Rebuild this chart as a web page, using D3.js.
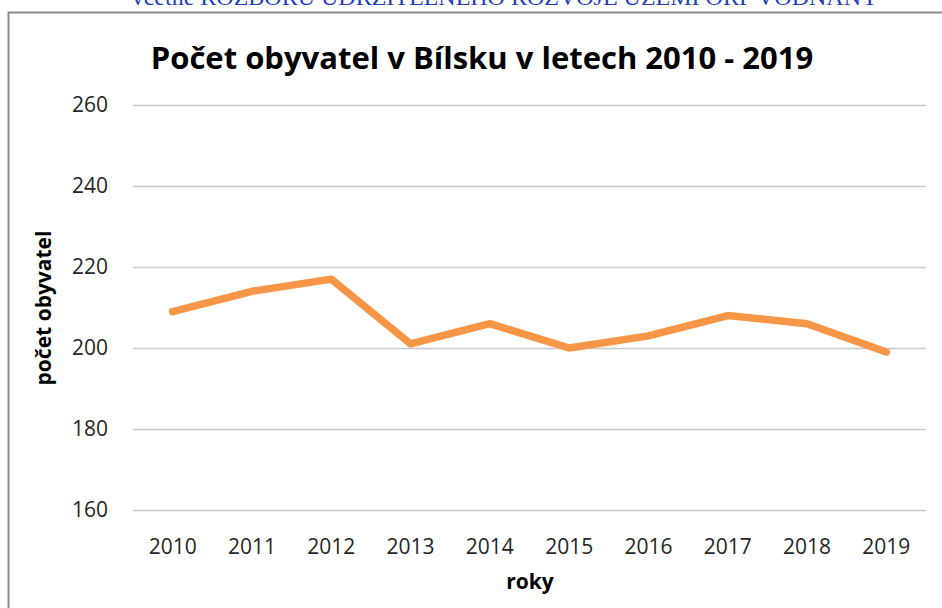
<!DOCTYPE html>
<html>
<head>
<meta charset="utf-8">
<script src="https://cdn.jsdelivr.net/npm/d3@7"></script>
<style>
  body { margin: 0; background: #fff; }
  svg { display: block; }
</style>
</head>
<body>
<div id="chart"></div>
<script>
// Počet obyvatel v Bílsku
const roky = ["2010", "2011", "2012", "2013", "2014", "2015", "2016", "2017", "2018", "2019"];
const obyvatele = [209, 214, 217, 201, 206, 200, 203, 208, 206, 199];
const yTicks = [160, 180, 200, 220, 240, 260];

const width = 942, height = 608;
const fontFam = "'Open Sans', 'Liberation Sans', sans-serif";

const svg = d3.select("#chart").append("svg")
    .attr("width", width)
    .attr("height", height);

// text dokumentu nad grafem (oříznutý)
svg.append("text")
    .attr("x", 505)
    .attr("y", 5)
    .attr("text-anchor", "middle")
    .style("font-family", "'Liberation Serif', 'Times New Roman', serif")
    .style("font-size", "24px")
    .style("fill", "#1f3fbf")
    .text("včetně ROZBORU UDRŽITELNÉHO ROZVOJE ÚZEMÍ ORP VODŇANY");

// rámeček grafu
svg.append("rect")
    .attr("x", 8.5)
    .attr("y", 12.5)
    .attr("width", 960)
    .attr("height", 620)
    .attr("fill", "none")
    .attr("stroke", "#8c8c8c")
    .attr("stroke-width", 2);

// Escalas
const x = d3.scaleBand()
    .domain(roky)
    .range([133, 926]);

const y = d3.scaleLinear()
    .domain([160, 260])
    .range([510, 105]);

// mřížka
svg.append("g")
    .selectAll("line")
    .data(yTicks)
    .enter()
    .append("line")
    .attr("x1", 133)
    .attr("x2", 926)
    .attr("y1", d => Math.round(y(d)) + 0.5)
    .attr("y2", d => Math.round(y(d)) + 0.5)
    .attr("stroke", "#c8c8c8")
    .attr("stroke-width", 1.3);

// popisky osy y
svg.append("g")
    .selectAll("text")
    .data(yTicks)
    .enter()
    .append("text")
    .attr("x", 108)
    .attr("y", d => y(d))
    .attr("dy", "0.35em")
    .attr("text-anchor", "end")
    .style("font-family", fontFam)
    .style("font-size", "21px")
    .style("fill", "#262626")
    .text(d => d);

// popisky osy x
svg.append("g")
    .selectAll("text")
    .data(roky)
    .enter()
    .append("text")
    .attr("x", d => x(d) + x.bandwidth() / 2)
    .attr("y", 554)
    .attr("text-anchor", "middle")
    .style("font-family", fontFam)
    .style("font-size", "21px")
    .style("fill", "#262626")
    .text(d => d);

// čára
const line = d3.line()
    .x((d, i) => x(roky[i]) + x.bandwidth() / 2)
    .y(d => y(d));

svg.append("path")
    .datum(obyvatele)
    .attr("d", line)
    .attr("fill", "none")
    .attr("stroke", "#f79646")
    .attr("stroke-width", 7.5)
    .attr("stroke-linejoin", "round")
    .attr("stroke-linecap", "round");

// nadpis
svg.append("text")
    .attr("x", 482)
    .attr("y", 69)
    .attr("text-anchor", "middle")
    .style("font-family", fontFam)
    .style("font-weight", "bold")
    .style("font-size", "31px")
    .style("fill", "#000")
    .text("Počet obyvatel v Bílsku v letech 2010 - 2019");

// názvy os
svg.append("text")
    .attr("x", 530)
    .attr("y", 589)
    .attr("text-anchor", "middle")
    .style("font-family", fontFam)
    .style("font-weight", "bold")
    .style("font-size", "21px")
    .text("roky");

svg.append("text")
    .attr("transform", "translate(51,308) rotate(-90)")
    .attr("text-anchor", "middle")
    .style("font-family", fontFam)
    .style("font-weight", "bold")
    .style("font-size", "21px")
    .text("počet obyvatel");
</script>
</body>
</html>
